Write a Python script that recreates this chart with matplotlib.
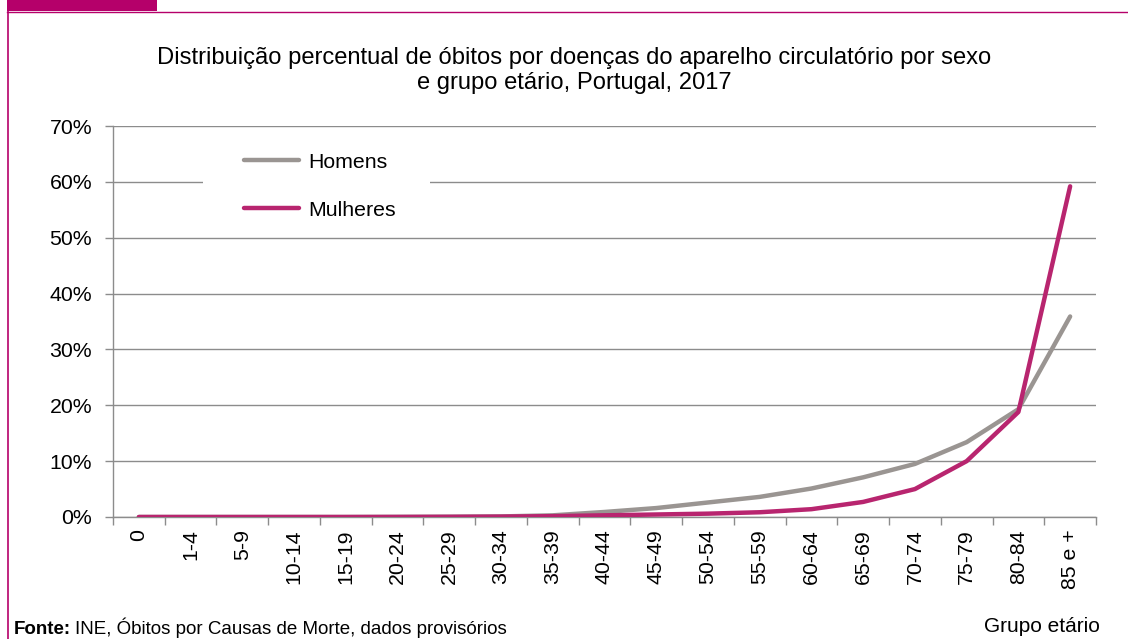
import matplotlib
matplotlib.use("Agg")
import matplotlib.pyplot as plt
from matplotlib.patches import Rectangle
from matplotlib.lines import Line2D

plt.rcParams['font.family'] = ['Liberation Sans', 'DejaVu Sans']

categories = ["0", "1-4", "5-9", "10-14", "15-19", "20-24", "25-29", "30-34", "35-39",
              "40-44", "45-49", "50-54", "55-59", "60-64", "65-69", "70-74", "75-79",
              "80-84", "85 e +"]
homens = [0.0, 0.0, 0.0, 0.0, 0.0, 0.02, 0.05, 0.1, 0.3, 0.9, 1.6, 2.6, 3.6, 5.1, 7.1,
          9.5, 13.4, 19.3, 35.9]
mulheres = [0.0, 0.0, 0.0, 0.0, 0.0, 0.01, 0.03, 0.07, 0.15, 0.3, 0.45, 0.6, 0.85, 1.4,
            2.7, 5.0, 10.0, 18.8, 59.2]
yticks = [0, 10, 20, 30, 40, 50, 60, 70]

GRAY = '#9a9592'
MAG = '#b8256f'
FRAME = '#b5006a'
GRID = '#8c8c8c'
FS = 15.3

W, H = 1128, 639
fig = plt.figure(figsize=(W / 100, H / 100), dpi=100)

# frame and tab
fig.add_artist(Rectangle((7 / W, 1 - 11 / H), 150 / W, 11 / H, transform=fig.transFigure,
                         facecolor=FRAME, edgecolor='none'))
fig.add_artist(Line2D([7.5 / W, 7.5 / W], [0, 1 - 11 / H], transform=fig.transFigure,
                      color=FRAME, lw=1.2))
fig.add_artist(Line2D([7 / W, 1], [1 - 11.5 / H, 1 - 11.5 / H], transform=fig.transFigure,
                      color=FRAME, lw=1.0))

AX_L, AX_R, AX_T, AX_B = 113, 1096, 126, 517
ax = fig.add_axes([AX_L / W, 1 - AX_B / H, (AX_R - AX_L) / W, (AX_B - AX_T) / H])
x = list(range(len(categories)))
ax.plot(x, homens, color=GRAY, lw=3.2, solid_capstyle='round', solid_joinstyle='round',
        label='Homens', zorder=3)
ax.plot(x, mulheres, color=MAG, lw=3.2, solid_capstyle='round', solid_joinstyle='round',
        label='Mulheres', zorder=4)

ax.set_xlim(-0.5, len(categories) - 0.5)
ax.set_ylim(0, 70)
ax.set_yticks(yticks)
ax.set_yticklabels([f"{v}%" for v in yticks], fontsize=FS)
ax.set_xticks(x)
ax.set_xticklabels(categories, rotation=90, fontsize=FS)
ax.set_xticks([i - 0.5 for i in range(len(categories) + 1)], minor=True)
ax.tick_params(axis='x', which='major', length=0, pad=9)
ax.tick_params(axis='x', which='minor', length=6, color=GRID, width=1)
ax.tick_params(axis='y', length=6, color=GRID, width=1, pad=9)
ax.grid(axis='y', color=GRID, lw=1)
ax.set_axisbelow(True)
for s in ['top', 'right']:
    ax.spines[s].set_visible(False)
for s in ['left', 'bottom']:
    ax.spines[s].set_color(GRID)
    ax.spines[s].set_linewidth(1)

# white legend background (axes fraction coords)
aw, ah = AX_R - AX_L, AX_B - AX_T
ax.add_patch(Rectangle(((203 - AX_L) / aw, (AX_B - 232) / ah), (430 - 203) / aw, 100 / ah,
                       transform=ax.transAxes, facecolor='white', edgecolor='none',
                       zorder=1.5, clip_on=False))

leg = ax.legend(loc='upper left', bbox_to_anchor=((244 - AX_L) / aw, (AX_B - 152.5) / ah),
                borderaxespad=0, frameon=False, fontsize=FS, handlelength=2.6,
                labelspacing=1.38, borderpad=0, handletextpad=0.42)
for ln in leg.get_lines():
    ln.set_linewidth(3.2)
    ln.set_solid_capstyle('round')

fig.text(574 / W, 1 - 70.5 / H,
         "Distribuição percentual de óbitos por doenças do aparelho circulatório por sexo\n"
         "e grupo etário, Portugal, 2017",
         ha='center', va='center', fontsize=17.1, linespacing=1.15, multialignment='center')

# footer
FFS = 13.5
fonte = fig.text(14 / W, 1 - 634 / H, "Fonte:", fontsize=FFS, fontweight='bold',
                 va='baseline', ha='left')
fig.canvas.draw()
bb = fonte.get_window_extent()
fig.text((bb.x1 + 4) / W, 1 - 634 / H, "INE, Óbitos por Causas de Morte, dados provisórios",
         fontsize=FFS, va='baseline', ha='left')

fig.text(1042 / W, 1 - 626 / H, "Grupo etário", fontsize=15, ha='center', va='center')

fig.savefig("out.png", dpi=100)
